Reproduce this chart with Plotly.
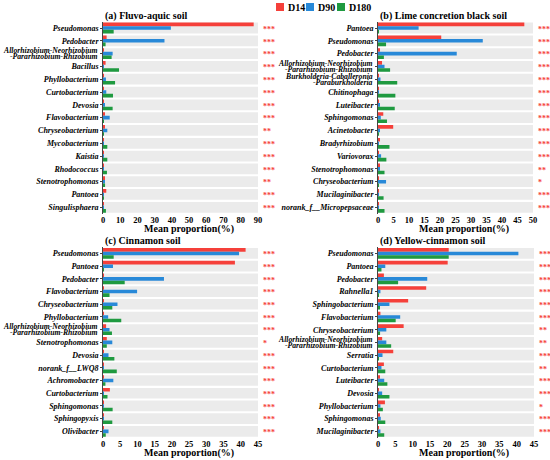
import plotly.graph_objects as go

# ---- data ----
series = ['D14', 'D90', 'D180']
colors = ['#f5403a', '#2889d8', '#1f9a40']

allo = 'Allorhizobium-Neorhizobium|-Pararhizobium-Rhizobium'

a_taxa = ['Pseudomonas', 'Pedobacter', allo, 'Bacillus', 'Phyllobacterium',
          'Curtobacterium', 'Devosia', 'Flavobacterium', 'Chryseobacterium',
          'Mycobacterium', 'Kaistia', 'Rhodococcus', 'Stenotrophomonas',
          'Pantoea', 'Singulisphaera']
a_d14 = [87.5, 2.1, 0.3, 1.5, 0.2, 0.2, 0.2, 1.0, 0.8, 0.1, 0.1, 0.1, 0.6, 1.9, 0.1]
a_d90 = [39.4, 35.7, 5.6, 0.2, 1.7, 1.9, 0.8, 3.9, 2.5, 0.1, 0.1, 0.1, 1.0, 0.1, 0.1]
a_d180 = [6.2, 1.5, 5.0, 9.3, 7.0, 5.8, 5.6, 0.4, 0.4, 2.5, 2.5, 2.3, 1.2, 0.1, 1.7]
a_sig = ['***', '***', '***', '***', '***', '***', '***', '***', '**',
         '***', '***', '***', '**', '***', '***']

b_taxa = ['Pantoea', 'Pseudomonas', 'Pedobacter', allo,
          'Burkholderia-Caballeronia|-Paraburkholderia', 'Chitinophaga',
          'Luteibacter', 'Sphingomonas', 'Acinetobacter', 'Bradyrhizobium',
          'Variovorax', 'Stenotrophomonas', 'Chryseobacterium',
          'Mucilaginibacter', 'norank_f__Micropepsaceae']
b_d14 = [47.2, 20.4, 0.4, 1.3, 0.1, 0.1, 0.1, 1.7, 4.9, 0.4, 0.1, 0.6, 0.1, 0.1, 0.1]
b_d90 = [13.1, 33.8, 25.4, 2.1, 0.8, 0.1, 0.4, 0.9, 0.6, 0.1, 1.0, 0.5, 2.6, 0.3, 0.1]
b_d180 = [0.1, 2.6, 1.9, 3.9, 6.2, 5.6, 5.4, 2.9, 0.1, 3.7, 2.7, 2.1, 0.1, 1.8, 2.1]
b_sig = ['***', '***', '***', '***', '***', '***', '***', '***', '***',
         '***', '***', '**', '*', '***', '***']

c_taxa = ['Pseudomonas', 'Pantoea', 'Pedobacter', 'Flavobacterium',
          'Chryseobacterium', 'Phyllobacterium', allo, 'Stenotrophomonas',
          'Devosia', 'norank_f__LWQ8', 'Achromobacter', 'Curtobacterium',
          'Sphingomonas', 'Sphingopyxis', 'Olivibacter']
c_d14 = [41.4, 38.3, 0.1, 0.1, 0.1, 0.1, 0.9, 1.1, 0.1, 0.1, 0.1, 2.0, 0.1, 0.1, 0.1]
c_d90 = [39.5, 2.9, 17.7, 9.9, 4.2, 1.5, 1.9, 2.7, 1.6, 0.1, 3.0, 0.1, 0.1, 0.1, 1.6]
c_d180 = [3.1, 0.1, 6.3, 1.9, 2.7, 5.3, 2.6, 1.1, 3.3, 4.0, 0.7, 1.3, 2.8, 2.7, 0.8]
c_sig = ['***', '***', '***', '***', '***', '***', '***', '*', '***',
         '***', '***', '***', '***', '***', '***']

d_taxa = ['Pseudomonas', 'Pantoea', 'Pedobacter', 'Rahnella1',
          'Sphingobacterium', 'Flavobacterium', 'Chryseobacterium', allo,
          'Serratia', 'Curtobacterium', 'Luteibacter', 'Devosia',
          'Phyllobacterium', 'Sphingomonas', 'Mucilaginibacter']
d_d14 = [20.4, 20.1, 1.7, 13.9, 8.7, 0.7, 7.4, 1.2, 4.4, 1.7, 0.4, 0.2, 2.0, 0.4, 0.1]
d_d90 = [40.5, 2.1, 14.2, 0.7, 3.3, 6.4, 2.4, 2.4, 1.3, 1.0, 1.8, 1.2, 0.7, 0.8, 0.7]
d_d180 = [20.4, 1.0, 5.8, 0.1, 0.5, 5.1, 0.6, 3.8, 0.1, 2.1, 2.7, 3.3, 1.4, 2.1, 1.8]
d_sig = ['***', '***', '***', '***', '***', '***', '**', '**', '***',
         '**', '***', '***', '*', '***', '***']

panels = [
    ('(a) Fluvo-aquic soil', a_taxa, [a_d14, a_d90, a_d180], a_sig, 90, 10),
    ('(b) Lime concretion black soil', b_taxa, [b_d14, b_d90, b_d180], b_sig, 50, 5),
    ('(c) Cinnamon soil', c_taxa, [c_d14, c_d90, c_d180], c_sig, 45, 5),
    ('(d) Yellow-cinnamon soil', d_taxa, [d_d14, d_d90, d_d180], d_sig, 45, 5),
]

W, H = 550, 460
FONT = 'Liberation Serif'
# plot areas in pixels: (left, right, top, bottom)
boxes = [(103, 258, 21.6, 213.7), (378, 533, 21.6, 213.7),
         (103, 258, 247.1, 437.7), (378, 534, 247.1, 437.7)]

fig = go.Figure()
annotations = []
shapes = []
layout = {}

for k, (title, taxa, vals, sig, xmax, dt) in enumerate(panels):
    n = k + 1
    xa = 'x' if n == 1 else 'x%d' % n
    ya = 'y' if n == 1 else 'y%d' % n
    pos = list(range(len(taxa)))
    l, r, t, b = boxes[k]

    fig.add_trace(go.Bar(x=[xmax] * len(taxa), y=pos, orientation='h',
                         width=0.84, offset=-0.42, marker_color='#ebebeb',
                         marker_line_width=0, showlegend=False,
                         hoverinfo='skip', xaxis=xa, yaxis=ya))
    for j, s in enumerate(series):
        fig.add_trace(go.Bar(x=vals[j], y=pos, orientation='h', name=s,
                             width=0.28, offset=-0.42 + 0.28 * j,
                             marker_color=colors[j], marker_line_width=0,
                             showlegend=False, xaxis=xa, yaxis=ya))

    # tick labels: single-line ones as ticktext, two-line ones as annotations
    ticktext = []
    for i, name in enumerate(taxa):
        if '|' in name:
            ticktext.append('')
            for part, dy in zip(name.split('|'), (-0.25, 0.25)):
                annotations.append(dict(
                    text='<b><i>%s</i></b>' % part, xref='paper', yref=ya,
                    x=(l - 3) / W, y=i + dy, xanchor='right', yanchor='middle',
                    showarrow=False,
                    font=dict(family=FONT, size=7.7, color='black')))
        else:
            ticktext.append('<b><i>%s</i></b>' % name)

    xkey = 'xaxis' if n == 1 else 'xaxis%d' % n
    ykey = 'yaxis' if n == 1 else 'yaxis%d' % n
    layout[xkey] = dict(domain=[l / W, r / W], range=[0, xmax], dtick=dt,
                        anchor=ya, showgrid=False, zeroline=False,
                        showline=False, ticks='', ticklen=2,
                        tickfont=dict(family=FONT, size=8.5, color='black',
                                      weight='bold'),
                        automargin=False)
    layout[ykey] = dict(domain=[1 - b / H, 1 - t / H], range=[14.5, -0.5],
                        anchor=xa, showgrid=False, zeroline=False,
                        showline=True, linecolor='#444', linewidth=0.8,
                        ticks='outside', ticklen=2, tickcolor='#444',
                        tickvals=pos, ticktext=ticktext,
                        tickfont=dict(family=FONT, size=8, color='black'),
                        automargin=False)

    annotations.append(dict(text='<b>%s</b>' % title, xref='paper', yref='paper',
                            x=l / W, y=1 - (t - 6) / H, xanchor='left',
                            yanchor='middle', showarrow=False,
                            font=dict(family=FONT, size=10, color='black')))
    annotations.append(dict(text='<b>Mean proportion(%)</b>', xref='paper',
                            yref='paper', x=(l + r) / 2 / W + 0.015,
                            y=1 - (b + 15) / H, xanchor='center',
                            yanchor='middle', showarrow=False,
                            font=dict(family=FONT, size=10, color='black')))
    for i, s in enumerate(sig):
        annotations.append(dict(text='<b>%s</b>' % s, xref='paper',
                                yref=ya, x=(r + 3) / W, y=i + 0.1,
                                xanchor='left', yanchor='middle',
                                showarrow=False,
                                font=dict(family=FONT, size=8,
                                          color='#f5403a')))

# legend drawn by hand (small squares + labels)
leg_x = [276, 306, 337]
for j, s in enumerate(series):
    x0 = leg_x[j]
    shapes.append(dict(type='rect', xref='paper', yref='paper',
                       x0=x0 / W, x1=(x0 + 8) / W, y0=1 - 11 / H, y1=1 - 3 / H,
                       fillcolor=colors[j], line_width=0))
    annotations.append(dict(text='<b>%s</b>' % s, xref='paper', yref='paper',
                            x=(x0 + 10) / W, y=1 - 7 / H, xanchor='left',
                            yanchor='middle', showarrow=False,
                            font=dict(family=FONT, size=10, color='black')))

fig.update_layout(
    width=W, height=H,
    margin=dict(l=0, r=0, t=0, b=0),
    barmode='overlay',
    showlegend=False,
    plot_bgcolor='white', paper_bgcolor='white',
    annotations=annotations,
    shapes=shapes,
    **layout
)

fig.write_html('out.html', config={'displayModeBar': False},
               post_script="document.body.style.margin='0';")
